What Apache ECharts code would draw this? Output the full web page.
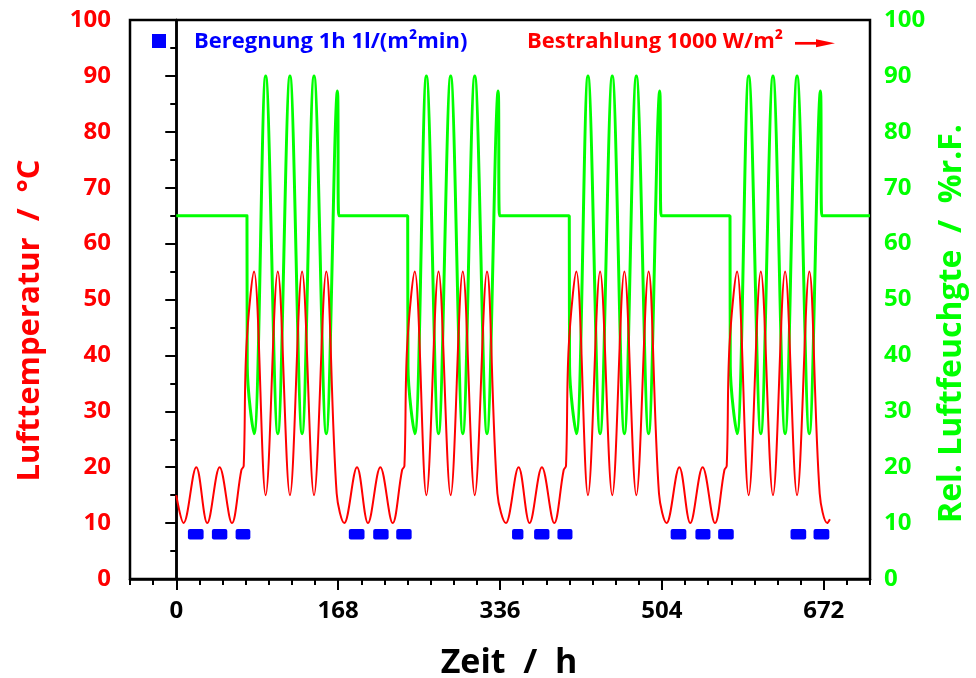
<!DOCTYPE html>
<html>
<head>
<meta charset="utf-8">
<script src="https://cdn.jsdelivr.net/npm/echarts@6/dist/echarts.min.js"></script>
<style>
  html, body { margin: 0; padding: 0; background: #ffffff; }
  #chart { width: 976px; height: 678px; }
</style>
</head>
<body>
<div id="chart"></div>
<script>
// Time axis ticks (hours): labelled weeks
const weekHours = [0, 168, 336, 504, 672];

// Air temperature, °C — turning points of the climate cycle
const tempHours = [
  0, 7.6, 20.8, 32.2, 45, 57.8, 67.6, 70, 72.8, 80.7, 92.8, 105.4, 118, 130.6, 143, 155.7, 166.5,
  174.4, 187.6, 199, 211.8, 224.6, 234.4, 236.8, 239.6, 247.5, 259.6, 272.2, 284.8, 297.4, 309.8, 322.5, 333.3,
  342.1, 355.3, 366.7, 379.5, 392.3, 402.1, 404.5, 407.3, 415.2, 427.3, 439.9, 452.5, 465.1, 477.5, 490.2, 501.0,
  508.9, 522.1, 533.5, 546.3, 559.1, 568.9, 571.3, 574.1, 582.0, 594.1, 606.7, 619.3, 631.9, 644.3, 657.0, 667.8,
  675.7, 678.4
];
const tempValues = [
  15, 10, 20, 10, 20, 10, 19.5, 20.2, 41.5, 55, 15, 55, 15, 55, 15, 55, 15.3,
  10, 20, 10, 20, 10, 19.5, 20.2, 41.5, 55, 15, 55, 15, 55, 15, 55, 15.3,
  10, 20, 10, 20, 10, 19.5, 20.2, 41.5, 55, 15, 55, 15, 55, 15, 55, 15.3,
  10, 20, 10, 20, 10, 19.5, 20.2, 41.5, 55, 15, 55, 15, 55, 15, 55, 15.3,
  10, 10.7
];

// Relative humidity, %r.F.
const humidHours = [
  0, 73.4, 73.7, 80.7, 92.8, 105.4, 118, 130.6, 143, 155.7, 167.3, 168.7,
  240.2, 240.5, 247.5, 259.6, 272.2, 284.8, 297.4, 309.8, 322.5, 334.1, 335.5,
  407.9, 408.2, 415.2, 427.3, 439.9, 452.5, 465.1, 477.5, 490.2, 501.8, 503.2,
  574.7, 575.0, 582.0, 594.1, 606.7, 619.3, 631.9, 644.3, 657.0, 668.6, 670.0,
  720
];
const humidValues = [
  65, 65, 38, 26, 90, 26, 90, 26, 90, 26, 87.3, 65,
  65, 38, 26, 90, 26, 90, 26, 90, 26, 87.3, 65,
  65, 38, 26, 90, 26, 90, 26, 90, 26, 87.3, 65,
  65, 38, 26, 90, 26, 90, 26, 90, 26, 87.3, 65,
  65
];

// Sprinkling periods (start / end in hours) and the level they are plotted at
const rainStart = [12.1, 37, 61.6, 179.1, 204.4, 228.3, 348.5, 371.4, 395.6, 513.1, 538.8, 562.4, 637.5, 661.4];
const rainEnd   = [28.4, 53, 76.9, 195.4, 220.4, 244.3, 360.3, 387.3, 411.2, 529.4, 554.4, 578.6, 653.8, 677.8];
const rainLevel = [8, 8, 8, 8, 8, 8, 8, 8, 8, 8, 8, 8, 8, 8];

const RED = '#ff0000';
const GREEN = '#00ff00';
const BLUE = '#0000ff';
const FONT = 'Open Sans';

const chart = echarts.init(document.getElementById('chart'), null, { renderer: 'canvas' });

const tickLabel = (color) => ({
  color: color,
  fontFamily: FONT,
  fontWeight: 'bold',
  fontSize: 24
});

chart.setOption({
  animation: false,
  backgroundColor: '#ffffff',
  grid: {
    left: 130, right: 106, top: 20, bottom: 99,
    outerBoundsMode: 'none', containLabel: false,
    show: true, borderColor: '#000', borderWidth: 2.5,
    backgroundColor: 'transparent'
  },
  xAxis: [
    {
      type: 'value', min: -48, max: 720, interval: 24,
      position: 'bottom',
      name: 'Zeit  /  h', nameLocation: 'middle', nameGap: 67,
      nameTextStyle: {
        fontFamily: FONT, fontWeight: 'bold', fontSize: 34, color: '#000',
        padding: [0, 0, 0, 18]
      },
      axisLine: { show: true, lineStyle: { color: '#000', width: 2.5 } },
      axisTick: { show: true, length: 6, lineStyle: { color: '#000', width: 2 } },
      axisLabel: Object.assign(tickLabel('#000'), {
        margin: 20, customValues: weekHours,
        formatter: (v) => (v % 168 === 0 ? String(v) : '')
      }),
      splitLine: { show: false }
    },
    {
      type: 'value', min: -48, max: 720,
      position: 'bottom', offset: 0,
      axisLine: { show: false },
      axisTick: { show: true, length: 11, customValues: weekHours, lineStyle: { color: '#000', width: 2 } },
      axisLabel: { show: false },
      splitLine: { show: false }
    }
  ],
  yAxis: [
    {
      type: 'value', min: 0, max: 100, interval: 10, position: 'left',
      name: 'Lufttemperatur  /  °C', nameLocation: 'middle', nameGap: 84, nameRotate: 90,
      nameTextStyle: {
        fontFamily: FONT, fontWeight: 'bold', fontSize: 31, color: RED,
        padding: [0, 42, 0, 0]
      },
      axisLine: { show: true, lineStyle: { color: '#000', width: 2.5 } },
      axisTick: { show: true, length: 11, lineStyle: { color: '#000', width: 2 } },
      minorTick: { show: true, splitNumber: 2, length: 6, lineStyle: { color: '#000', width: 2 } },
      axisLabel: Object.assign(tickLabel(RED), { margin: 19 }),
      splitLine: { show: false }
    },
    {
      type: 'value', min: 0, max: 100, interval: 10, position: 'right',
      name: 'Rel. Luftfeuchgte  /  %r.F.', nameLocation: 'middle', nameGap: 66, nameRotate: 90,
      nameTextStyle: {
        fontFamily: FONT, fontWeight: 'bold', fontSize: 32, color: GREEN,
        padding: [0, 48, 0, 0]
      },
      axisLine: { show: true, lineStyle: { color: '#000', width: 2.5 } },
      axisTick: { show: true, inside: true, length: 11, lineStyle: { color: '#000', width: 2 } },
      minorTick: { show: true, splitNumber: 2, length: 6, lineStyle: { color: '#000', width: 2 } },
      axisLabel: Object.assign(tickLabel(GREEN), { margin: 14 }),
      splitLine: { show: false }
    }
  ],
  series: [
    {
      name: 'Rel. Luftfeuchte', type: 'line', xAxisIndex: 0, yAxisIndex: 1,
      data: humidHours.map((h, i) => [h, humidValues[i]]),
      smooth: 0.36, showSymbol: false, symbol: 'none',
      lineStyle: { color: GREEN, width: 3 }, z: 2
    },
    {
      name: 'Lufttemperatur', type: 'line', xAxisIndex: 0, yAxisIndex: 0,
      data: tempHours.map((h, i) => [h, tempValues[i]]),
      smooth: 0.36, showSymbol: false, symbol: 'none',
      lineStyle: { color: RED, width: 2 }, z: 3
    },
    {
      name: 'Beregnung', type: 'custom', xAxisIndex: 0, yAxisIndex: 0,
      data: rainStart.map((s, i) => [s, rainEnd[i], rainLevel[i]]),
      encode: { x: [0, 1], y: 2 },
      renderItem: (params, api) => {
        const a = api.coord([api.value(0), api.value(2)]);
        const b = api.coord([api.value(1), api.value(2)]);
        const h = 10.5;
        return {
          type: 'rect',
          shape: { x: a[0], y: a[1] - h / 2, width: b[0] - a[0], height: h, r: 2 },
          style: { fill: BLUE }
        };
      },
      z: 4
    }
  ],
  graphic: [
    { type: 'rect', left: 152, top: 34, shape: { width: 14, height: 14 }, style: { fill: BLUE }, z: 10 },
    {
      type: 'text', x: 194, y: 42,
      style: { text: 'Beregnung 1h 1l/(m²min)', fill: BLUE, font: 'bold 22px "Open Sans"', verticalAlign: 'middle' },
      z: 10
    },
    {
      type: 'text', x: 527, y: 42,
      style: { text: 'Bestrahlung 1000 W/m²', fill: RED, font: 'bold 22px "Open Sans"', verticalAlign: 'middle' },
      z: 10
    },
    {
      type: 'line', shape: { x1: 795, y1: 43.3, x2: 822, y2: 43.3 },
      style: { stroke: RED, lineWidth: 2.7 }, z: 10
    },
    {
      type: 'polygon', shape: { points: [[816, 39.3], [835, 43.3], [816, 47.3]] },
      style: { fill: RED }, z: 10
    }
  ]
});
</script>
</body>
</html>
